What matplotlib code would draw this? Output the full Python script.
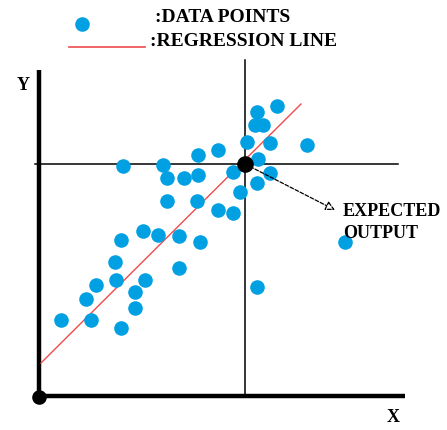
import matplotlib
matplotlib.use("Agg")
import matplotlib.pyplot as plt

# point positions (pixel space, y down)
point_x = [122.7, 163.3, 198.3, 217.7, 166.7, 184, 198.3, 166.7, 196.7, 217.7,
           256.7, 276.7, 255, 263.3, 246.7, 270, 307.3, 258.3, 233.3, 270,
           256.7, 240, 233.3, 345, 121, 143.3, 158.3, 179.3, 200, 115,
           179.3, 95.7, 116, 145, 85.7, 135, 135, 61, 90.7, 121, 256.7]
point_y = [166, 165, 155.3, 150, 178.3, 178.3, 175, 201, 201, 210,
           111.7, 106, 125, 125, 141.7, 142.7, 145, 159, 171.7, 173.3,
           183.3, 192.3, 213.3, 241.7, 240, 231, 235, 236, 241.7, 261.7,
           267.7, 285, 280, 280, 299.3, 291.7, 308.3, 320, 320, 327.7, 287.3]

reg_x = [41, 301]
reg_y = [363, 104]

expected = (245, 164)

BLUE = "#00a0e3"
RED = "#f04a4a"
FONT = "Liberation Serif"

fig = plt.figure(figsize=(4.47, 4.30), dpi=100)
ax = fig.add_axes([0, 0, 1, 1])
ax.set_xlim(0, 447)
ax.set_ylim(430, 0)
ax.axis("off")

# main axes
ax.plot([39, 39], [70, 397], color="black", lw=3.2, solid_capstyle="butt")
ax.plot([39, 405], [396, 396], color="black", lw=3.2, solid_capstyle="butt")
ax.scatter([39], [397], s=90, color="black", zorder=5)

# crosshair through expected output
ax.plot([245, 245], [60, 396], color="black", lw=1.1)
ax.plot([35, 398], [164, 164], color="black", lw=1.1)

ax.plot(reg_x, reg_y, color=RED, lw=1.0, zorder=2)
ax.scatter(point_x, point_y, s=110, color=BLUE, zorder=3, linewidths=0)
ax.scatter([expected[0]], [expected[1]], s=120, color="black", zorder=6)

ax.annotate("", xy=(335, 210), xytext=expected,
            arrowprops=dict(arrowstyle="-|>", ec="black", fc="white", lw=0.9,
                            linestyle=(0, (3, 1.5)),
                            mutation_scale=14, shrinkA=0, shrinkB=0))
ax.text(343, 211, "EXPECTED", fontsize=13, fontweight="bold",
        family=FONT, va="center", ha="left")
ax.text(343, 233, "OUTPUT", fontsize=13, fontweight="bold",
        family=FONT, va="center", ha="left")

# legend
ax.scatter([82], [24], s=110, color=BLUE, linewidths=0)
ax.text(155, 18, ":DATA POINTS", fontsize=14, fontweight="bold",
        family=FONT, va="center", ha="left")
ax.plot([69, 145], [47, 47], color=RED, lw=1.2)
ax.text(150, 42, ":REGRESSION LINE", fontsize=14, fontweight="bold",
        family=FONT, va="center", ha="left")

ax.text(23, 86, "Y", fontsize=13, fontweight="bold", family=FONT,
        va="center", ha="center")
ax.text(393, 417, "X", fontsize=13, fontweight="bold", family=FONT,
        va="center", ha="center")

fig.savefig("out.png", dpi=100)
